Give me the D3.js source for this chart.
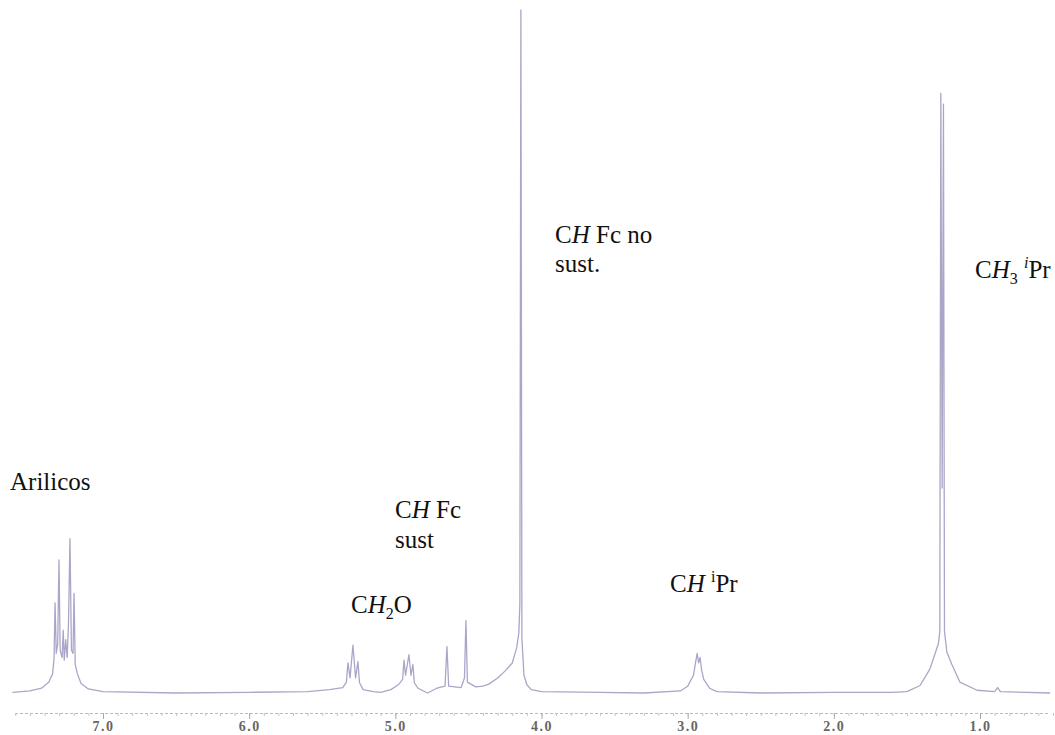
<!DOCTYPE html>
<html>
<head>
<meta charset="utf-8">
<script src="https://cdn.jsdelivr.net/npm/d3@7"></script>
<style>
  html, body { margin: 0; padding: 0; background: #fff; }
  svg { display: block; }
  .label { font-family: "Liberation Serif", "Times New Roman", serif; font-size: 25px; fill: #111; }
  .axis text { font-family: "Liberation Serif", serif; font-weight: bold; font-size: 14px; fill: #666; letter-spacing: 1.5px; }
</style>
</head>
<body>
<svg id="chart" width="1055" height="735"></svg>
<script>
// tick labels on the ppm axis
const ppmTicks = [7, 6, 5, 4, 3, 2, 1];
const tickLabels = ["7.0", "6.0", "5.0", "4.0", "3.0", "2.0", "1.0"];

// spectrum trace, [ppm, intensity %], left to right
const aromatic = [
  [7.62, 0.1], [7.50, 0.3], [7.42, 0.7], [7.37, 1.6], [7.345, 2.8], [7.335, 5],
  [7.328, 13.2], [7.32, 5.8], [7.31, 7.2], [7.301, 19.5], [7.293, 6.2], [7.28, 5.2],
  [7.272, 9.2], [7.265, 4.8], [7.255, 7.8], [7.245, 5.2], [7.236, 10.2], [7.226, 22.6],
  [7.216, 6.3], [7.205, 5.8], [7.198, 14.6], [7.19, 4.2], [7.175, 2.8], [7.15, 1.4],
  [7.10, 0.6], [7.00, 0.2]
];
const ch2o = [
  [6.50, 0], [6.00, 0.1], [5.60, 0.2], [5.45, 0.5], [5.36, 0.8], [5.335, 1.6],
  [5.324, 4.4], [5.31, 2.2], [5.29, 7.0], [5.272, 2.2], [5.256, 4.6], [5.245, 1.5],
  [5.22, 0.5], [5.15, 0.2]
];
const fcSubst = [
  [5.10, 0.1], [5.03, 0.5], [4.98, 1.2], [4.95, 2.0], [4.941, 4.8], [4.93, 2.6],
  [4.907, 5.6], [4.893, 2.6], [4.880, 4.2], [4.87, 1.5], [4.845, 0.7], [4.78, 0],
  [4.716, 0.7], [4.66, 1.0], [4.647, 6.8], [4.635, 1.0], [4.55, 0.8], [4.527, 2.2],
  [4.517, 10.6], [4.507, 1.6], [4.45, 0.9]
];
const fcFree = [
  [4.40, 1.0], [4.36, 1.3], [4.30, 2.2], [4.25, 3.2], [4.20, 4.4], [4.17, 6.6],
  [4.155, 8.8], [4.148, 13], [4.141, 100], [4.134, 8], [4.12, 2.6], [4.10, 1.2],
  [4.07, 0.5], [4.00, 0.2], [3.60, 0.1]
];
const chIpr = [
  [3.30, 0], [3.05, 0.3], [3.00, 1.0], [2.96, 2.6], [2.945, 4.6], [2.935, 5.8],
  [2.925, 4.4], [2.915, 5.2], [2.905, 3.4], [2.89, 2.0], [2.85, 0.7], [2.80, 0.2],
  [2.50, 0], [2.00, 0.1], [1.60, 0.1]
];
const ch3Ipr = [
  [1.50, 0.2], [1.41, 1.1], [1.343, 3.5], [1.31, 5.6], [1.285, 7.2], [1.275, 9],
  [1.268, 87.8], [1.259, 30], [1.250, 86.2], [1.243, 9], [1.233, 7.2], [1.227, 6.0],
  [1.193, 4.2], [1.138, 1.6], [1.02, 0.4], [0.90, 0.2], [0.88, 0.8], [0.86, 0.2], [0.52, 0]
];

const spectrum = [...aromatic, ...ch2o, ...fcSubst, ...fcFree, ...chIpr, ...ch3Ipr];

const svg = d3.select("#chart");
const x = d3.scaleLinear().domain([7, 1]).range([103, 980]);
const y = d3.scaleLinear().domain([0, 100]).range([693, 10]);

// ppm axis: faint dotted line, minor ticks every 0.1
const axisY = 713;
const minor = d3.range(76, 4, -1).map(v => v / 10);
const axisG = svg.append("g").attr("class", "axis").attr("transform", `translate(0,${axisY})`);
axisG.call(d3.axisBottom(x).tickValues(minor).tickSize(3).tickFormat(""));
axisG.select(".domain").attr("stroke", "#bbb").attr("stroke-dasharray", "3,2").attr("d", `M15,0.5H1050`);
axisG.selectAll(".tick line").attr("stroke", "#c4c4c4");
const major = svg.append("g").attr("class", "axis").attr("transform", `translate(0,${axisY})`);
major.call(d3.axisBottom(x).tickValues(ppmTicks).tickSize(6)
  .tickFormat((d, i) => tickLabels[i]));
major.select(".domain").remove();
major.selectAll(".tick line").attr("stroke", "#aaa");
major.selectAll(".tick text").attr("y", 18).attr("dy", 0);

// spectrum trace
const line = d3.line().x(d => x(d[0])).y(d => y(d[1]));
svg.append("path").datum(spectrum)
  .attr("d", line)
  .attr("fill", "none")
  .attr("stroke", "#aaa6c8")
  .attr("stroke-width", 1.3)
  .attr("stroke-linejoin", "round");

// peak assignments
function label(px, py, parts) {
  const t = svg.append("text").attr("class", "label").attr("x", px).attr("y", py);
  parts.forEach(p => {
    const s = t.append("tspan").text(p.t);
    if (p.i) s.attr("font-style", "italic");
    if (p.sub) s.attr("font-size", "16px").attr("dy", 6);
    if (p.sup) s.attr("font-size", "16px").attr("dy", -10);
    if (p.back) s.attr("dy", p.back);
  });
}
label(10, 490, [{ t: "Arilicos" }]);
label(395, 518, [{ t: "C" }, { t: "H", i: true }, { t: " Fc" }]);
label(395, 548, [{ t: "sust" }]);
label(351, 613, [{ t: "C" }, { t: "H", i: true }, { t: "2", sub: true }, { t: "O", back: -6 }]);
label(555, 243, [{ t: "C" }, { t: "H", i: true }, { t: " Fc no" }]);
label(555, 272, [{ t: "sust." }]);
label(975, 278, [{ t: "C" }, { t: "H", i: true }, { t: "3", sub: true }, { t: " ", back: -6 },
  { t: "i", sup: true, i: true }, { t: "Pr", back: 10 }]);
label(670, 592, [{ t: "C" }, { t: "H", i: true }, { t: " " }, { t: "i", sup: true }, { t: "Pr", back: 10 }]);
</script>
</body>
</html>
